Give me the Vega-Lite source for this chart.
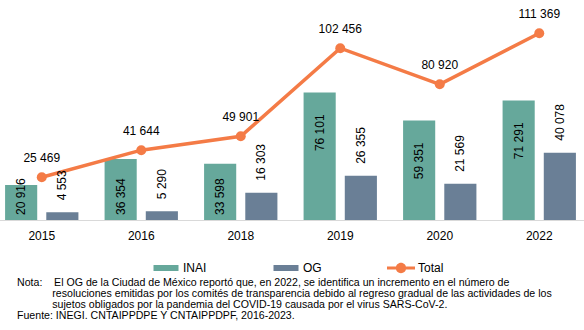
{
  "$schema": "https://vega.github.io/schema/vega-lite/v6.json",
  "width": 597,
  "height": 218,
  "autosize": {"type": "none"},
  "padding": {"left": -8, "top": 2, "right": -5, "bottom": 110},
  "background": "white",
  "config": {
    "font": "Liberation Sans",
    "view": {"stroke": null},
    "axis": {"grid": false},
    "locale": {"number": {"decimal": ".", "thousands": " ", "grouping": [3], "currency": ["$", ""]}}
  },
  "title": {
    "text": [
      "Nota:\u00a0\u00a0\u00a0\u00a0El OG de la Ciudad de México reportó que, en 2022, se identifica un incremento en el número de",
      "\u200b\u00a0\u00a0\u00a0\u00a0\u00a0\u00a0\u00a0\u00a0\u00a0\u00a0\u00a0\u00a0resoluciones emitidas por los comités de transparencia debido al regreso gradual de las actividades de los",
      "\u200b\u00a0\u00a0\u00a0\u00a0\u00a0\u00a0\u00a0\u00a0\u00a0\u00a0\u00a0\u00a0sujetos obligados por la pandemia del COVID-19 causada por el virus SARS-CoV-2.",
      "Fuente: INEGI. CNTAIPPDPE Y CNTAIPPDPF, 2016-2023."
    ],
    "orient": "bottom",
    "anchor": "start",
    "frame": "group",
    "fontSize": 10.6,
    "fontWeight": "normal",
    "lineHeight": 11,
    "offset": 4,
    "dx": 25,
    "color": "#000000"
  },
  "data": {
    "values": [
      {"year": "2015", "series": "INAI", "value": 20916},
      {"year": "2015", "series": "OG", "value": 4553},
      {"year": "2015", "series": "Total", "value": 25469},
      {"year": "2016", "series": "INAI", "value": 36354},
      {"year": "2016", "series": "OG", "value": 5290},
      {"year": "2016", "series": "Total", "value": 41644},
      {"year": "2018", "series": "INAI", "value": 33598},
      {"year": "2018", "series": "OG", "value": 16303},
      {"year": "2018", "series": "Total", "value": 49901},
      {"year": "2019", "series": "INAI", "value": 76101},
      {"year": "2019", "series": "OG", "value": 26355},
      {"year": "2019", "series": "Total", "value": 102456},
      {"year": "2020", "series": "INAI", "value": 59351},
      {"year": "2020", "series": "OG", "value": 21569},
      {"year": "2020", "series": "Total", "value": 80920},
      {"year": "2022", "series": "INAI", "value": 71291},
      {"year": "2022", "series": "OG", "value": 40078},
      {"year": "2022", "series": "Total", "value": 111369}
    ]
  },
  "encoding": {
    "x": {
      "field": "year",
      "type": "nominal",
      "sort": null,
      "scale": {"paddingInner": 0.263, "paddingOuter": 0.1315},
      "axis": {
        "title": null,
        "labelAngle": 0,
        "ticks": false,
        "domainColor": "#d9d9d9",
        "domainWidth": 1,
        "labelFontSize": 12,
        "labelColor": "#000000",
        "labelPadding": 10
      }
    }
  },
  "layer": [
    {
      "transform": [{"filter": "datum.series !== 'Total'"}],
      "mark": {"type": "bar"},
      "encoding": {
        "xOffset": {"field": "series", "type": "nominal", "scale": {"domain": ["INAI", "OG"], "paddingInner": 0.22}},
        "y": {"field": "value", "type": "quantitative", "scale": {"domain": [0, 129000]}, "axis": null},
        "color": {
          "field": "series",
          "type": "nominal",
          "scale": {"domain": ["INAI", "OG", "Total"], "range": ["#66A89B", "#6A7F96", "#F47B46"]},
          "legend": {
            "title": null,
            "orient": "none",
            "legendX": 160,
            "legendY": 252,
            "direction": "horizontal",
            "symbolSize": 784,
            "labelFontSize": 12,
            "labelColor": "#000000",
            "labelOffset": 3,
            "columnPadding": 65,
            "encode": {
              "symbols": {
                "update": {
                  "shape": [
                    {"test": "datum.value === 'Total'", "value": "M-1,-0.11H-0.36V0.11H-1Z M0.36,-0.11H1V0.11H0.36Z M0.37,0A0.37,0.37,0,1,1,-0.37,0A0.37,0.37,0,1,1,0.37,0Z"},
                    {"value": "M-0.893,-0.214H0.893V0.214H-0.893Z"}
                  ],
                  "fill": {"scale": "color", "field": "value"},
                  "stroke": {"value": "transparent"},
                  "strokeWidth": {"value": 0},
                  "opacity": {"value": 1}
                }
              }
            }
          }
        }
      }
    },
    {
      "transform": [{"filter": "datum.series === 'Total'"}],
      "mark": {"type": "line", "strokeWidth": 3.5, "point": {"filled": true, "size": 100}},
      "encoding": {
        "y": {"field": "value", "type": "quantitative"},
        "color": {"field": "series", "type": "nominal"}
      }
    },
    {
      "transform": [{"filter": "datum.series === 'Total'"}],
      "mark": {"type": "text", "dy": -19, "baseline": "middle", "fontSize": 12, "color": "#000000"},
      "encoding": {
        "y": {"field": "value", "type": "quantitative"},
        "text": {"field": "value", "type": "quantitative", "format": ",d"}
      }
    },
    {
      "transform": [{"filter": "datum.series === 'INAI' && datum.value > 50000"}],
      "mark": {"type": "text", "angle": 270, "align": "right", "baseline": "middle", "dx": -22, "fontSize": 12, "color": "#000000"},
      "encoding": {
        "xOffset": {"field": "series", "type": "nominal"},
        "y": {"field": "value", "type": "quantitative"},
        "text": {"field": "value", "type": "quantitative", "format": ",d"}
      }
    },
    {
      "transform": [{"filter": "datum.series === 'INAI' && datum.value <= 50000"}],
      "mark": {"type": "text", "angle": 270, "align": "left", "baseline": "middle", "dx": 5, "fontSize": 12, "color": "#000000"},
      "encoding": {
        "xOffset": {"field": "series", "type": "nominal"},
        "y": {"datum": 0, "type": "quantitative"},
        "text": {"field": "value", "type": "quantitative", "format": ",d"}
      }
    },
    {
      "transform": [{"filter": "datum.series === 'OG'"}],
      "mark": {"type": "text", "angle": 270, "align": "left", "baseline": "middle", "dx": 12, "fontSize": 12, "color": "#000000"},
      "encoding": {
        "xOffset": {"field": "series", "type": "nominal"},
        "y": {"field": "value", "type": "quantitative"},
        "text": {"field": "value", "type": "quantitative", "format": ",d"}
      }
    }
  ]
}
